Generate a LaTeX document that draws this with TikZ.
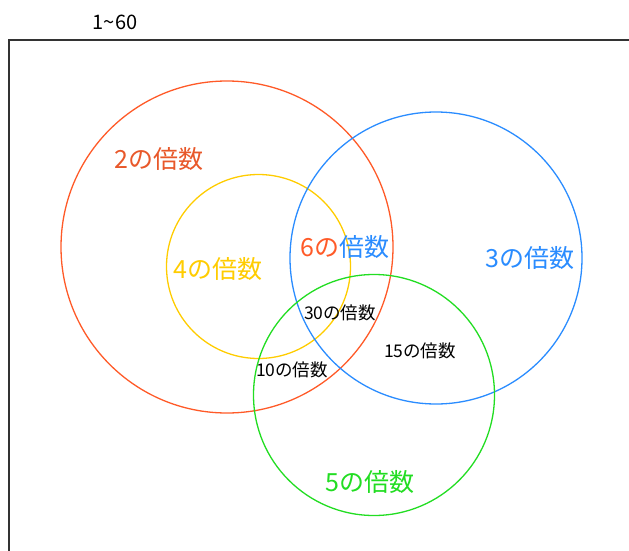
\documentclass[tikz,border=0pt]{standalone}
\usepackage{fontspec}
\setmainfont{Noto Sans CJK JP}
\definecolor{cred}{HTML}{FF5A28}
\definecolor{tred}{HTML}{E8582A}
\definecolor{cyel}{HTML}{FFCC00}
\definecolor{cblu}{HTML}{2A8CFF}
\definecolor{cgrn}{HTML}{22DD22}
\begin{document}
\begin{tikzpicture}[x=1pt,y=-1pt,
  ring/.style={line width=1.3pt},
  big/.style={font=\fontsize{25}{27}\selectfont},
  small/.style={font=\fontsize{17.5}{19}\selectfont, text=black}]
\useasboundingbox (0,0) rectangle (629,551);
\draw[line width=1.3pt, draw=black!80] (9,551) coordinate (fb) -- (9,40) coordinate (fc) -- (629,40) coordinate (fr);
\node[font=\fontsize{20}{22}\selectfont] (title) at (115,22) {1\textasciitilde60};
\draw[ring, cred] (227,247) circle[radius=166];
\draw[ring, cyel] (258.5,266.5) circle[radius=92];
\draw[ring, cblu] (436,258) circle[radius=146];
\draw[ring, cgrn] (374,395) circle[radius=120.5];
\node[big, text=tred] (l2) at (159,159) {2の倍数};
\node[big, text=cyel] (l4) at (218,269) {4の倍数};
\node[big] (l6) at (345,247) {\textcolor{cred}{6の}\textcolor{cblu}{倍数}};
\node[big, text=cblu] (l3) at (530,258) {3の倍数};
\node[big, text=cgrn] (l5) at (370,482) {5の倍数};
\node[small] (l30) at (340,313) {30の倍数};
\node[small] (l15) at (420,351) {15の倍数};
\node[small] (l10) at (292,370) {10の倍数};
\end{tikzpicture}
\end{document}
